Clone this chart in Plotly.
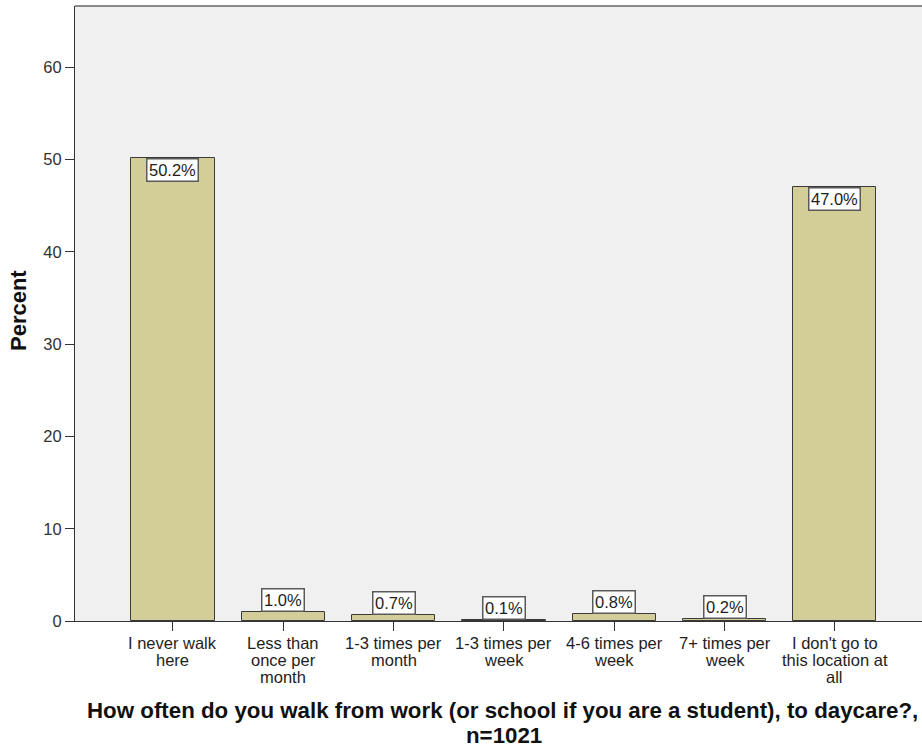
import plotly.graph_objects as go

categories = ["I never walk<br>here", "Less than<br>once per<br>month", "1-3 times per<br>month",
              "1-3 times per<br>week", "4-6 times per<br>week", "7+ times per<br>week",
              "I don't go to<br>this location at<br>all"]
percent = [50.2, 1.0, 0.7, 0.1, 0.8, 0.2, 47.0]
value_labels = ["50.2%", "1.0%", "0.7%", "0.1%", "0.8%", "0.2%", "47.0%"]
y_ticks = [0, 10, 20, 30, 40, 50, 60]
x_title_lines = ["How often do you walk from work (or school if you are a student), to daycare?,", "n=1021"]
y_title = "Percent"

FONT = "Liberation Sans, Arial, sans-serif"
TXT = "#1e1e1e"
W, H = 922, 749
ML, MR, MT, MB = 74.5, 0, 6, 128
PW = W - ML - MR
PH = H - MT - MB

xs = list(range(len(categories)))

fig = go.Figure()
fig.add_trace(go.Bar(
    x=xs, y=percent, width=0.755,
    marker=dict(color="#D3CE97", line=dict(color="#3a3a3a", width=1)),
    hoverinfo="skip",
))

ann = []
# value label boxes
for xi, v, t in zip(xs, percent, value_labels):
    inside = v > 5
    ann.append(dict(
        x=xi, y=v, xref="x", yref="y", text=t, showarrow=False,
        yanchor="top" if inside else "bottom", xanchor="center",
        font=dict(family=FONT, size=16.5, color=TXT),
        bgcolor="white", bordercolor="#5a5a5a", borderwidth=1.5, borderpad=1.5,
    ))

# category tick labels, one annotation per line for tight line spacing
for xi, lab in zip(xs, categories):
    for k, line in enumerate(lab.split("<br>")):
        ann.append(dict(
            x=xi, y=0, xref="x", yref="paper", text=line, showarrow=False,
            xanchor="center", yanchor="middle", yshift=-(21.5 + 17 * k),
            font=dict(family=FONT, size=16.5, color=TXT),
        ))

# x axis title (two lines)
title_centers = [502, 503.5]
title_mid = [710, 735.5]
for line, cx, cy in zip(x_title_lines, title_centers, title_mid):
    ann.append(dict(
        x=(cx - ML) / PW, y=0, xref="paper", yref="paper", text="<b>" + line + "</b>",
        showarrow=False, xanchor="center", yanchor="middle", yshift=-(cy - (H - MB)),
        font=dict(family=FONT, size=22.3, color="#111"),
    ))

# y axis title
ann.append(dict(
    x=(17.5 - ML) / PW, y=(H - MB - 311) / PH, xref="paper", yref="paper",
    text="<b>" + y_title + "</b>",
    showarrow=False, textangle=-90, xanchor="center", yanchor="middle",
    font=dict(family=FONT, size=22, color="#111"),
))

fig.update_layout(
    width=W, height=H,
    margin=dict(l=ML, r=MR, t=MT, b=MB, pad=0),
    paper_bgcolor="white", plot_bgcolor="#F0F0F0",
    showlegend=False, bargap=0,
    annotations=ann,
    shapes=[dict(type="line", xref="paper", yref="paper", x0=0, x1=1, y0=1, y1=1,
                 line=dict(color="#8a8a8a", width=2))],
    xaxis=dict(range=[-0.888, 6.79], tickvals=xs, ticktext=[""] * len(xs),
               ticks="outside", ticklen=9, tickcolor="#333", tickwidth=1,
               showline=True, linecolor="#333", linewidth=1, showgrid=False, zeroline=False,
               fixedrange=True),
    yaxis=dict(range=[0, 66.65], tickvals=y_ticks, ticks="outside", ticklen=9,
               tickcolor="#333", tickwidth=1, showline=True, linecolor="#333", linewidth=1,
               showgrid=False, zeroline=False,
               tickfont=dict(family=FONT, size=16.5, color="#333"), fixedrange=True),
)

fig.write_html("out.html", config={"displayModeBar": False},
               post_script="document.body.style.margin='0';")
